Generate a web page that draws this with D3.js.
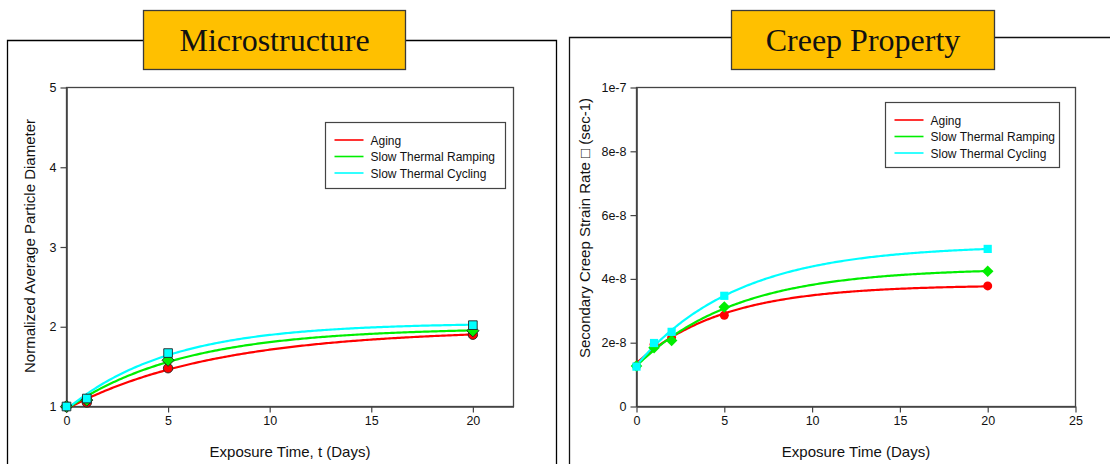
<!DOCTYPE html>
<html>
<head>
<meta charset="utf-8">
<script src="https://cdn.jsdelivr.net/npm/d3@7"></script>
<style>
  html, body { margin: 0; padding: 0; background: #fff; }
  svg { display: block; }
  text { font-family: Arial, "Liberation Sans", sans-serif; fill: #111; }
</style>
</head>
<body>
<svg id="chart" width="1110" height="464"></svg>
<script>
// Exposure times (days)
const daysMicro = [0, 1, 5, 20];
const daysCreep = [0, 1, 2, 5, 20];

const seriesNames = ["Aging", "Slow Thermal Ramping", "Slow Thermal Cycling"];
const seriesColors = ["#ff0000", "#00ee00", "#00ffff"];

// Normalized average particle diameter
const microAging   = [1.00, 1.05, 1.48, 1.90];
const microRamping = [1.00, 1.08, 1.58, 1.95];
const microCycling = [1.00, 1.10, 1.67, 2.02];

// Secondary creep strain rate (1/s)
const creepAging   = [1.27e-8, 1.95e-8, 2.16e-8, 2.86e-8, 3.78e-8];
const creepRamping = [1.27e-8, 1.84e-8, 2.07e-8, 3.12e-8, 4.24e-8];
const creepCycling = [1.25e-8, 1.99e-8, 2.34e-8, 3.47e-8, 4.94e-8];

const microYTicks = [1, 2, 3, 4, 5];
const microXTicks = [0, 5, 10, 15, 20];
const creepYTicks = [0, 2e-8, 4e-8, 6e-8, 8e-8, 1e-7];
const creepYTickLabels = ["0", "2e-8", "4e-8", "6e-8", "8e-8", "1e-7"];
const creepXTicks = [0, 5, 10, 15, 20, 25];

// Least-squares fit of y = c + a(1 - exp(-b x)); b by search, c and a linear.
function fitRise(xs, ys) {
  let best = null;
  for (let b = 0.005; b <= 3; b += 0.001) {
    const f = xs.map(x => 1 - Math.exp(-b * x));
    const n = xs.length;
    const sf = d3.sum(f), sy = d3.sum(ys);
    const sff = d3.sum(f, v => v * v);
    const sfy = d3.sum(f.map((v, i) => v * ys[i]));
    const den = n * sff - sf * sf;
    if (Math.abs(den) < 1e-12) continue;
    const a = (n * sfy - sf * sy) / den;
    const c = (sy - a * sf) / n;
    const err = d3.sum(f.map((v, i) => (c + a * v - ys[i]) ** 2));
    if (!best || err < best.err) best = { a, b, c, err };
  }
  return x => best.c + best.a * (1 - Math.exp(-best.b * x));
}

const svg = d3.select("#chart");

// Panel frames
function panelFrame(x0, x1, y0, color) {
  svg.append("path")
    .attr("d", `M${x0},464 V${y0} H${x1} V464`)
    .attr("fill", "none").attr("stroke", color).attr("stroke-width", 1.3);
}
panelFrame(7.5, 556.5, 40.5, "#000");
panelFrame(569.5, 1115, 37.5, "#111");

function titleBox(x, y, w, h, label) {
  svg.append("rect").attr("x", x).attr("y", y).attr("width", w).attr("height", h)
    .attr("fill", "#ffc000").attr("stroke", "#3a3a3a").attr("stroke-width", 1.3);
  svg.append("text").attr("x", x + w / 2).attr("y", y + h / 2 + 11)
    .attr("text-anchor", "middle")
    .style("font-family", "'Liberation Serif', 'Times New Roman', serif")
    .style("font-size", "32px")
    .text(label);
}
titleBox(143.5, 10.5, 262, 59, "Microstructure");
titleBox(731.5, 10.5, 263, 59, "Creep Property");

function drawPanel(cfg) {
  const { xDomain, xRange, yDomain, yRange, xTicks, yTicks, yTickFormat,
          xs, series, xTitle, yTitle, yTitleX, yTitleY, markerStroke, legend, mscale } = cfg;
  const x = d3.scaleLinear().domain(xDomain).range(xRange);
  const y = d3.scaleLinear().domain(yDomain).range(yRange);
  const g = svg.append("g");

  // plot box
  g.append("rect")
    .attr("x", xRange[0]).attr("y", yRange[1])
    .attr("width", xRange[1] - xRange[0]).attr("height", yRange[0] - yRange[1])
    .attr("fill", "none").attr("stroke", "#444").attr("stroke-width", 1.3);

  const xAxis = g.append("g").attr("transform", `translate(0,${yRange[0]})`)
    .call(d3.axisBottom(x).tickValues(xTicks).tickSize(6).tickSizeOuter(0).tickPadding(4));
  const yAxis = g.append("g").attr("transform", `translate(${xRange[0]},0)`)
    .call(d3.axisLeft(y).tickValues(yTicks).tickSize(6).tickSizeOuter(0).tickPadding(4)
      .tickFormat(yTickFormat));
  [xAxis, yAxis].forEach(a => {
    a.select(".domain").attr("stroke", "#444").attr("stroke-width", 1.6);
    a.selectAll(".tick line").attr("stroke", "#444").attr("stroke-width", 1.2);
    a.selectAll(".tick text").style("font-size", "12.5px")
      .style("font-family", "Arial, 'Liberation Sans', sans-serif").attr("fill", "#111");
  });

  g.append("text").attr("x", (xRange[0] + xRange[1]) / 2).attr("y", 457)
    .attr("text-anchor", "middle").style("font-size", "15px").text(xTitle);
  g.append("text")
    .attr("transform", `translate(${yTitleX},${yTitleY}) rotate(-90)`)
    .attr("text-anchor", "middle").style("font-size", "15px").text(yTitle);

  const diamond = d3.symbolDiamond2 || d3.symbolDiamond;
  const symbols = [d3.symbolCircle, diamond, d3.symbolSquare];
  const sizes = [70, 95, 75].map(s => s * mscale);

  // fitted curves
  series.forEach((ys, i) => {
    const f = fitRise(xs, ys);
    const span = d3.range(0, 201).map(k => xs[0] + (xs[xs.length - 1] - xs[0]) * k / 200);
    g.append("path")
      .datum(span)
      .attr("d", d3.line().x(d => x(d)).y(d => y(f(d))))
      .attr("fill", "none").attr("stroke", seriesColors[i]).attr("stroke-width", 2.2);
  });

  // data markers
  series.forEach((ys, i) => {
    g.append("g").selectAll("path").data(ys).join("path")
      .attr("transform", (d, j) => `translate(${x(xs[j])},${y(d)})`)
      .attr("d", d3.symbol().type(symbols[i]).size(sizes[i]))
      .attr("fill", seriesColors[i])
      .attr("stroke", markerStroke ? "#222" : "none")
      .attr("stroke-width", 0.9);
  });

  // legend
  const lg = g.append("g");
  lg.append("rect").attr("x", legend.x).attr("y", legend.y)
    .attr("width", legend.w).attr("height", legend.h)
    .attr("fill", "#fff").attr("stroke", "#444").attr("stroke-width", 1.2);
  seriesNames.forEach((name, i) => {
    const ry = legend.y + 17.5 + i * 16.5;
    lg.append("line").attr("x1", legend.x + 9).attr("x2", legend.x + 38)
      .attr("y1", ry).attr("y2", ry)
      .attr("stroke", seriesColors[i]).attr("stroke-width", 1.6);
    lg.append("text").attr("x", legend.x + 45).attr("y", ry + 4.5)
      .style("font-size", "12px").text(name);
  });
}

drawPanel({
  xDomain: [0, 22], xRange: [66.5, 513.5],
  yDomain: [1, 5], yRange: [406.5, 87.5],
  xTicks: microXTicks, yTicks: microYTicks, yTickFormat: d3.format("d"),
  xs: daysMicro, series: [microAging, microRamping, microCycling],
  xTitle: "Exposure Time, t (Days)",
  yTitle: "Normalized Average Particle Diameter", yTitleX: 35, yTitleY: 246,
  markerStroke: true, mscale: 1,
  legend: { x: 325.5, y: 122.5, w: 180, h: 66 }
});

drawPanel({
  xDomain: [0, 25], xRange: [636.5, 1075.5],
  yDomain: [0, 1e-7], yRange: [406.5, 87.5],
  xTicks: creepXTicks, yTicks: creepYTicks,
  yTickFormat: (d, i) => creepYTickLabels[i],
  xs: daysCreep, series: [creepAging, creepRamping, creepCycling],
  xTitle: "Exposure Time (Days)",
  yTitle: "Secondary Creep Strain Rate \u25A1 (sec-1)", yTitleX: 590, yTitleY: 228,
  markerStroke: false, mscale: 0.9,
  legend: { x: 885.5, y: 102.5, w: 174, h: 65 }
});
</script>
</body>
</html>
